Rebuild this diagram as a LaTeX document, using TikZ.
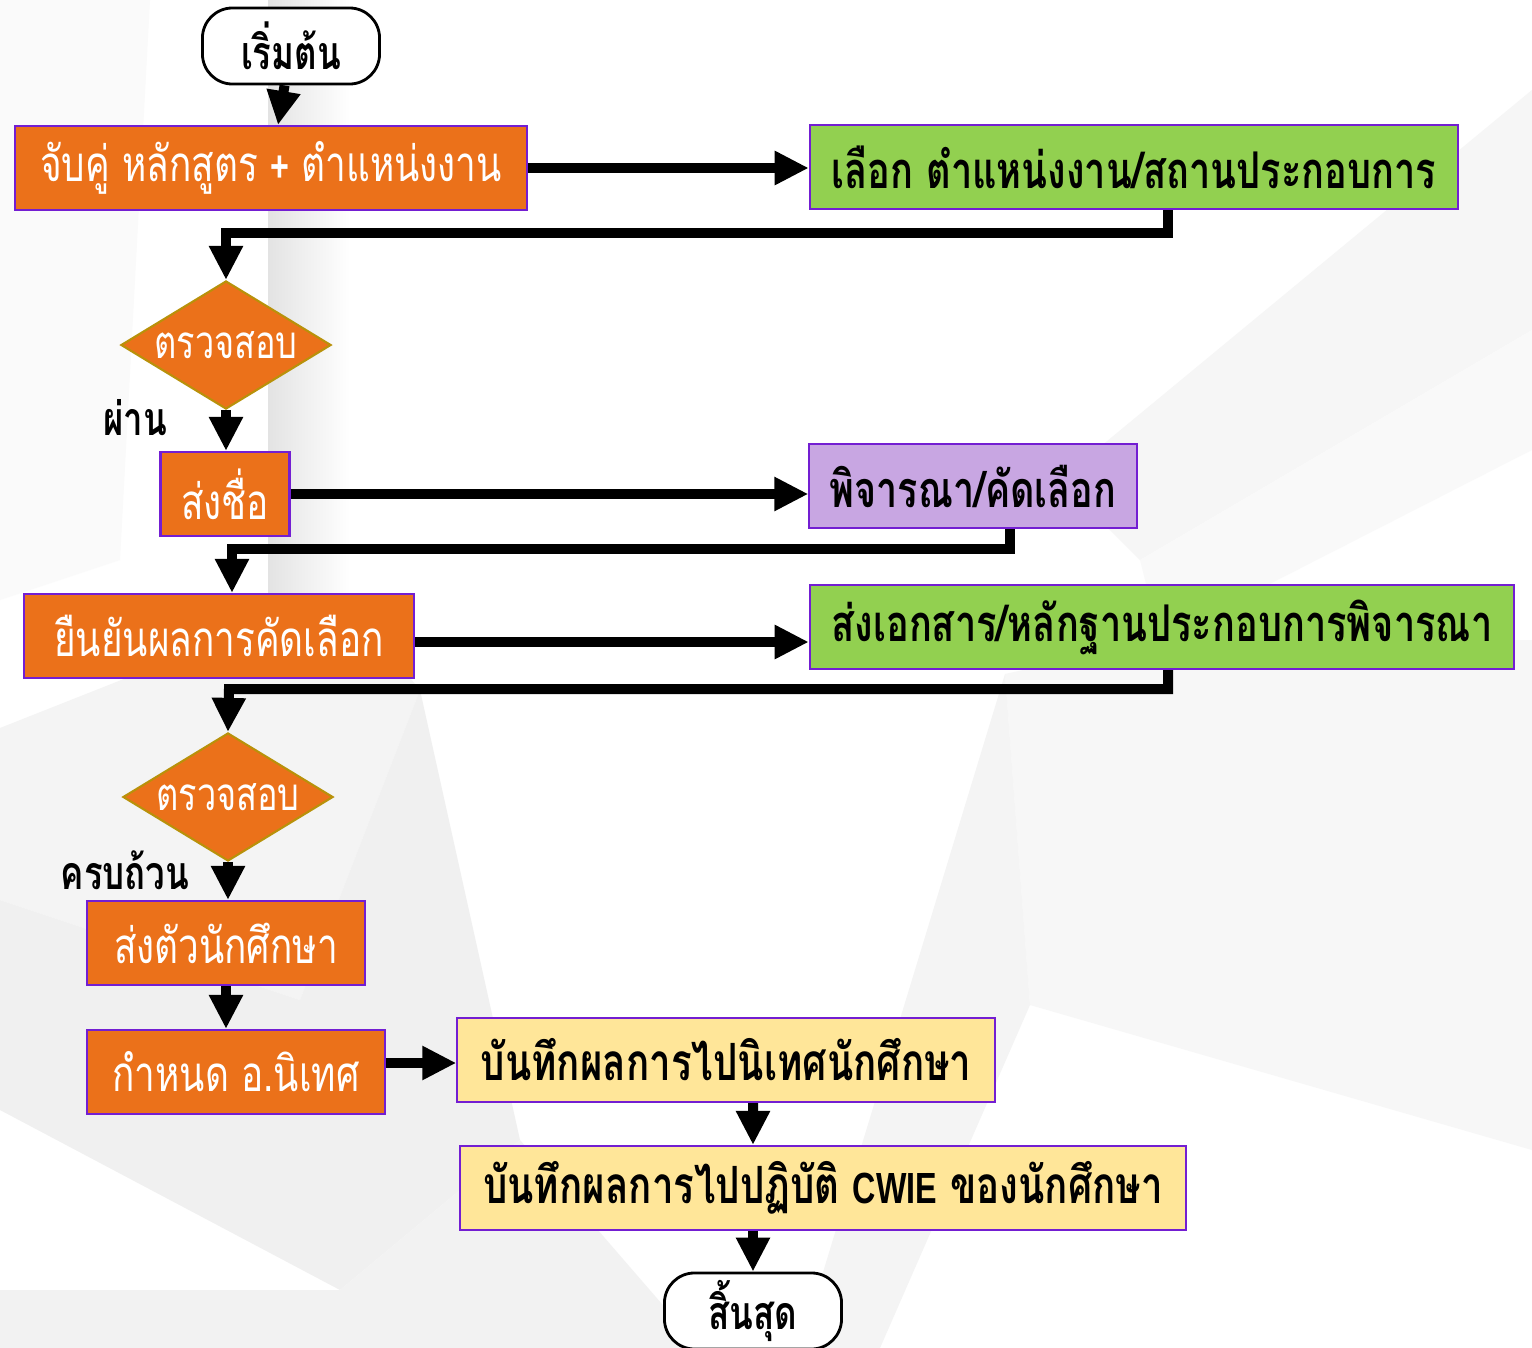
\documentclass[tikz,border=0pt]{standalone}
\usepackage{fontspec}
\usepackage{tikz}
\usetikzlibrary{arrows.meta,shapes.geometric}

\newfontfamily\thaifont[Script=Thai,FakeStretch=0.75]{Loma}
\newfontfamily\arialfont[FakeStretch=0.74]{Liberation Sans}
\newcommand\latinpart[1]{{\arialfont\bfseries\fontsize{12.4}{14}\selectfont #1}}

\definecolor{boxorange}{RGB}{235,113,26}
\definecolor{boxgreen}{RGB}{146,208,80}
\definecolor{boxlilac}{RGB}{200,166,226}
\definecolor{boxyellow}{RGB}{255,230,153}
\definecolor{edgeviolet}{RGB}{115,30,210}
\definecolor{edgegold}{RGB}{185,145,10}

\tikzset{
    stepbox/.style={draw=edgeviolet, line width=0.6pt, inner sep=0pt, minimum height=0.84cm,
        font=\thaifont\fontsize{14}{17}\selectfont},
    orangebox/.style={stepbox, fill=boxorange, text=white},
    greenbox/.style={stepbox, fill=boxgreen, font=\thaifont\bfseries\fontsize{14.4}{17}\selectfont},
    lilacbox/.style={stepbox, fill=boxlilac, font=\thaifont\bfseries\fontsize{14.3}{17}\selectfont},
    yellowbox/.style={stepbox, fill=boxyellow, font=\thaifont\bfseries\fontsize{14.6}{17}\selectfont},
    checkbox/.style={diamond, draw=edgegold, line width=0.6pt, fill=boxorange, text=white, inner sep=0pt,
        minimum width=2.1cm, minimum height=1.28cm, aspect=1.6, font=\thaifont\fontsize{13}{16}\selectfont},
    termbox/.style={draw=black, line width=0.8pt, fill=white, rounded corners=0.3cm, inner sep=0pt,
        minimum width=1.77cm, minimum height=0.76cm, font=\thaifont\bfseries\fontsize{13.2}{16}\selectfont},
    passlabel/.style={font=\thaifont\bfseries\fontsize{13.2}{16}\selectfont},
    flow/.style={line width=0.1cm, -{Triangle[width=0.32cm,length=0.34cm]}},
}

\begin{document}
\begin{tikzpicture}[x=0.01cm,y=-0.01cm]
                \useasboundingbox (0,0) rectangle (1532,1348);

                % background facets
                \fill[white] (0,0) rectangle (1532,1348);
                \fill[gray!4] (0,0) -- (150,0) -- (120,560) -- (0,600) -- cycle;
                \shade[left color=gray!22, right color=white] (268,0) -- (350,0) -- (350,605) -- (268,622) -- cycle;
                \fill[gray!9] (0,728) -- (268,622) -- (350,605) -- (420,690) -- (300,1000) -- (0,900) -- cycle;
                \fill[gray!12] (0,900) -- (300,1000) -- (420,690) -- (520,1140) -- (340,1290) -- (0,1110) -- cycle;
                \fill[gray!10] (0,1290) -- (340,1290) -- (520,1140) -- (700,1348) -- (0,1348) -- cycle;
                \fill[gray!7] (1532,90) -- (1532,330) -- (1140,560) -- (1060,480) -- cycle;
                \fill[gray!5] (1532,330) -- (1532,450) -- (1160,640) -- (1140,560) -- cycle;
                \fill[gray!6] (1005,674) -- (1030,1005) -- (1532,1150) -- (1532,640) -- (1160,640) -- cycle;
                \fill[gray!9] (1005,674) -- (1030,1005) -- (880,1348) -- (800,1348) -- cycle;

                % nodes
                \node[termbox] (start) at (291,46) {เริ่มต้น};
                \node[orangebox, minimum width=5.12cm] (match) at (271,168) {จับคู่ หลักสูตร \latinpart{+} ตำแหน่งงาน};
                \node[greenbox, minimum width=6.48cm] (select) at (1134,167) {เลือก ตำแหน่งงาน/สถานประกอบการ};
                \node[checkbox] (check1) at (226,345) {ตรวจสอบ};
                \node[orangebox, minimum width=1.29cm] (send) at (225,494) {ส่งชื่อ};
                \node[lilacbox, minimum width=3.27cm] (consider) at (973,486) {พิจารณา/คัดเลือก};
                \node[orangebox, minimum width=3.90cm] (confirm) at (219,636) {ยืนยันผลการคัดเลือก};
                \node[greenbox, minimum width=7.04cm] (docs) at (1162,627) {ส่งเอกสาร/หลักฐานประกอบการพิจารณา};
                \node[checkbox] (check2) at (228,797) {ตรวจสอบ};
                \node[orangebox, minimum width=2.77cm] (deliver) at (226,943) {ส่งตัวนักศึกษา};
                \node[orangebox, minimum width=2.97cm] (advisor) at (236,1072) {กำหนด อ.นิเทศ};
                \node[yellowbox, minimum width=5.37cm] (visit) at (726,1060) {บันทึกผลการไปนิเทศนักศึกษา};
                \node[yellowbox, minimum width=7.26cm] (practice) at (823,1188) {บันทึกผลการไปปฏิบัติ \latinpart{CWIE} ของนักศึกษา};
                \node[termbox] (finish) at (753,1311) {สิ้นสุด};

                \node[passlabel] (pass) at (135,418) {ผ่าน};
                \node[passlabel] (complete) at (125,870) {ครบถ้วน};

                % bends of the return lines
                \coordinate (bend1) at (226,233);
                \coordinate (bend2) at (232,549);
                \coordinate (bend3) at (229,689);

                % connectors
                \draw[flow] (start) -- (match);
                \draw[flow] (match.east) -- (match.east -| select.west);
                \draw[flow] ([xshift=0.34cm]select.south) |- (bend1) -- (check1.north);
                \draw[flow] (check1.south) -- (send.north -| check1.south);
                \draw[flow] (send.east) -- (send.east -| consider.west);
                \draw[flow] ([xshift=0.37cm]consider.south) |- (bend2) -- (bend2 |- confirm.north);
                \draw[flow] ([yshift=-0.06cm]confirm.east) -- ([yshift=-0.06cm]confirm.east -| docs.west);
                \draw[flow] ([xshift=0.06cm]docs.south) |- (bend3) -- (check2.north);
                \draw[flow] (check2.south) -- (deliver.north -| check2.south);
                \draw[flow] (deliver.south) -- (advisor.north -| deliver.south);
                \draw[flow] ([yshift=0.09cm]advisor.east) -- ([yshift=0.09cm]advisor.east -| visit.west);
                \draw[flow] ([xshift=0.27cm]visit.south) -- (practice.north -| finish);
                \draw[flow] (practice.south -| finish) -- (finish.north);
            \end{tikzpicture}
\end{document}
